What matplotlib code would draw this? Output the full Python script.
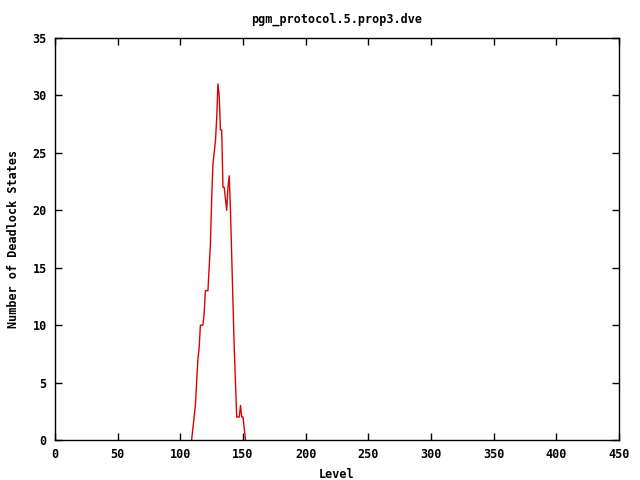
import matplotlib
matplotlib.use("Agg")
from matplotlib import pyplot as plt

# deadlock states per level
levels = list(range(109, 153))
deadlocks = [0, 1, 2, 3, 5, 7, 8, 10, 10, 10, 11, 13, 13, 13, 15, 17, 21, 24, 25, 26,
             28, 31, 30, 27, 27, 22, 22, 21, 20, 22, 23, 20, 16, 12, 8, 5, 2, 2, 2, 3,
             2, 2, 1, 0]

x_ticks = list(range(0, 451, 50))
y_ticks = list(range(0, 36, 5))

plt.rcParams["font.family"] = "DejaVu Sans Mono"
plt.rcParams["font.weight"] = "bold"
plt.rcParams["font.size"] = 8.5

fig = plt.figure(figsize=(6.4, 4.8), dpi=100)
ax = fig.add_axes([55 / 640, 40 / 480, 564 / 640, 402 / 480])

ax.plot(levels, deadlocks, color="#dd0000", linewidth=1)

ax.set_xlim(0, 450)
ax.set_ylim(0, 35)
ax.set_xticks(x_ticks)
ax.set_yticks(y_ticks)
ax.tick_params(direction="in", top=True, right=True, length=5, width=1, pad=6)
for side in ax.spines.values():
    side.set_linewidth(1)

ax.set_title("pgm_protocol.5.prop3.dve", fontsize=8.5, fontweight="bold", pad=11)
ax.set_xlabel("Level", fontweight="bold", labelpad=5)
ax.set_ylabel("Number of Deadlock States", fontweight="bold", labelpad=9)

fig.savefig("out.png", dpi=100)
plt.close(fig)
